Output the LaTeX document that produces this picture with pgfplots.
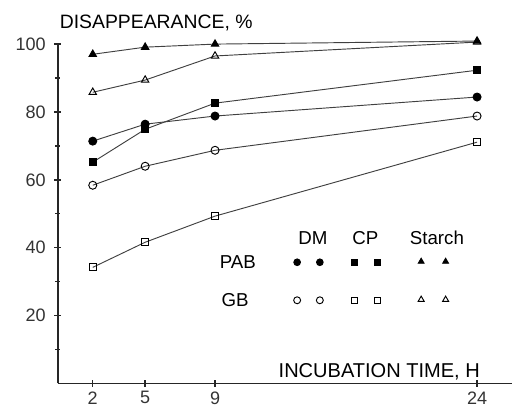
\documentclass[border=0pt]{standalone}
\usepackage{pgfplots}
\pgfplotsset{compat=1.18}
\usepackage{fontspec}
\setmainfont{Liberation Sans}
\begin{document}
\begin{tikzpicture}
\begin{axis}[
    scale only axis,
    width=340pt, height=254pt,
    xmin=0, xmax=26, ymin=0, ymax=100,
    axis x line=bottom, axis y line=left,
    axis line style={-, line width=1.1pt, black!85},
    xtick={2,5,9,24},
    ytick={20,40,60,80,100},
    minor ytick={10,30,50,70,90},
    tick align=center,
    major tick length=5pt, minor tick length=4pt,
    tick style={line width=1.1pt, black!85},
    clip=false,
    ticklabel style={font=\fontsize{13.5}{15}\selectfont, text=black!80},
    yticklabel style={xshift=-3pt},
    /pgf/number format/assume math mode=true,
    every axis plot/.append style={line width=0.7pt, black!75},
    every node/.append style={text=black!80},
]
% PAB
\addplot[mark=*, mark size=3pt, mark options={fill=black, draw=black}] coordinates {
    (2,71.4) (5,76.4) (9,78.8) (24,84.4)};
\addplot[mark=square*, mark size=2.6pt, mark options={fill=black, draw=black}] coordinates {
    (2,65.2) (5,74.9) (9,82.6) (24,92.3)};
\addplot[mark=triangle*, mark size=3.2pt, mark options={fill=black, draw=black}] coordinates {
    (2,97.0) (5,99.1) (9,100.0) (24,100.9)};
% GB
\addplot[mark=o, mark size=3pt, mark options={fill=white, draw=black}] coordinates {
    (2,58.4) (5,64.0) (9,68.7) (24,78.8)};
\addplot[mark=square, mark size=2.6pt, mark options={fill=white, draw=black}] coordinates {
    (2,34.2) (5,41.6) (9,49.3) (24,71.1)};
\addplot[mark=triangle, mark size=3.2pt, mark options={fill=white, draw=black}] coordinates {
    (2,85.8) (5,89.4) (9,96.5) (24,100.6)};

% key
\addplot[only marks, mark=*, mark size=2.5pt, black] coordinates {(13.7,35.7) (15.0,35.7)};
\addplot[only marks, mark=square*, mark size=2.2pt, black] coordinates {(17.0,35.7) (18.3,35.7)};
\addplot[only marks, mark=triangle*, mark size=2.5pt, black] coordinates {(20.8,35.9) (22.2,35.9)};
\addplot[only marks, mark=o, mark size=2.6pt, black, mark options={fill=white}] coordinates {(13.7,24.5) (15.0,24.5)};
\addplot[only marks, mark=square, mark size=2.3pt, black, mark options={fill=white}] coordinates {(17.0,24.5) (18.3,24.5)};
\addplot[only marks, mark=triangle, mark size=2.6pt, black, mark options={fill=white}] coordinates {(20.8,24.7) (22.2,24.7)};

\node[font=\fontsize{14}{15}\selectfont] at (axis cs:14.6,42.8) {DM};
\node[font=\fontsize{14}{15}\selectfont] at (axis cs:17.6,42.8) {CP};
\node[font=\fontsize{14}{15}\selectfont] at (axis cs:21.7,42.8) {Starch};
\node[font=\fontsize{14}{15}\selectfont, anchor=west] at (axis cs:9.0,35.7) {PAB};
\node[font=\fontsize{14}{15}\selectfont, anchor=west] at (axis cs:9.1,24.5) {GB};
\node[font=\fontsize{15}{17}\selectfont] at (axis cs:18.4,3.3) {INCUBATION TIME, H};
\node[font=\fontsize{14.5}{16}\selectfont, anchor=west, inner sep=0pt] at (axis cs:0.1,106.2) {DISAPPEARANCE, \%};

\coordinate (bl) at (axis cs:-3.31,-6.8);
\coordinate (tr) at (axis cs:26,113);
\end{axis}
\pgfresetboundingbox
\path[use as bounding box] (bl) rectangle (tr);
\end{tikzpicture}
\end{document}
